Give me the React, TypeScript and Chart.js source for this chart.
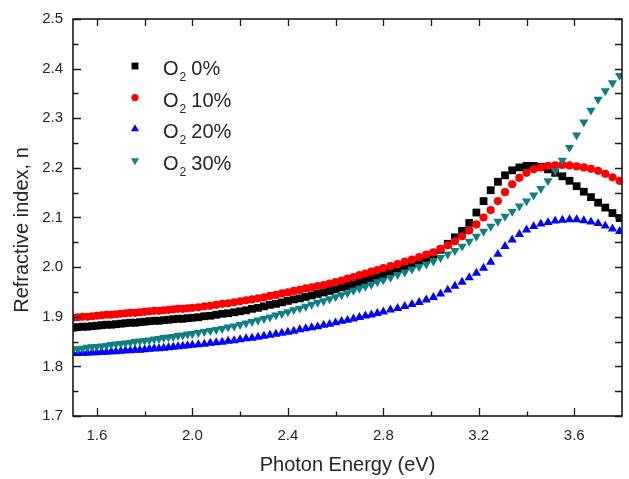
import { useEffect, useRef } from 'react';
import { Chart, registerables } from 'chart.js';

Chart.register(...registerables);

// Photon energy (eV)
const energy = [
  1.50, 1.52, 1.54, 1.56, 1.58, 1.60, 1.62, 1.64, 1.66, 1.68, 1.70, 1.72, 1.74, 1.76, 1.78, 1.80, 1.82, 1.84, 1.86, 1.88, 1.90, 1.92, 1.94, 1.96, 1.98, 2.00,
  2.025, 2.05, 2.075, 2.10, 2.125, 2.15, 2.175, 2.20, 2.225, 2.25, 2.275, 2.30, 2.325, 2.35, 2.375, 2.40, 2.425, 2.45, 2.475, 2.50, 2.525, 2.55, 2.575, 2.60, 2.625, 2.65, 2.675, 2.70, 2.725, 2.75, 2.775, 2.80,
  2.83, 2.86, 2.89, 2.92, 2.95, 2.98, 3.01, 3.04, 3.07, 3.10, 3.13, 3.16, 3.19, 3.22, 3.25, 3.28, 3.31, 3.34, 3.37, 3.40, 3.43, 3.46, 3.49, 3.52, 3.55, 3.58, 3.61, 3.64, 3.67, 3.70, 3.73, 3.76, 3.79,
];

// Refractive index, O2 0%
const nO2_0 = [
  1.878, 1.879, 1.880, 1.880, 1.881, 1.882, 1.883, 1.884, 1.884, 1.885, 1.886, 1.887, 1.888, 1.888, 1.889, 1.890, 1.891, 1.892, 1.892, 1.893, 1.894, 1.895, 1.896, 1.896, 1.897, 1.898,
  1.899, 1.901, 1.902, 1.904, 1.906, 1.907, 1.909, 1.911, 1.913, 1.916, 1.918, 1.921, 1.924, 1.926, 1.929, 1.932, 1.935, 1.937, 1.940, 1.943, 1.946, 1.949, 1.952, 1.955, 1.959, 1.962, 1.966, 1.970, 1.974, 1.978, 1.982, 1.986,
  1.991, 1.996, 2.001, 2.007, 2.012, 2.018, 2.025, 2.035, 2.047, 2.060, 2.073, 2.089, 2.110, 2.133, 2.155, 2.172, 2.185, 2.195, 2.201, 2.204, 2.204, 2.202, 2.197, 2.190, 2.183, 2.174, 2.163, 2.152, 2.141, 2.130, 2.120, 2.109, 2.099,
];

// Refractive index, O2 10%
const nO2_10 = [
  1.898, 1.899, 1.900, 1.900, 1.901, 1.902, 1.903, 1.904, 1.904, 1.905, 1.906, 1.907, 1.908, 1.908, 1.909, 1.910, 1.911, 1.912, 1.912, 1.913, 1.914, 1.915, 1.916, 1.916, 1.917, 1.918,
  1.919, 1.921, 1.922, 1.924, 1.926, 1.927, 1.929, 1.931, 1.933, 1.935, 1.937, 1.939, 1.942, 1.944, 1.947, 1.949, 1.952, 1.954, 1.957, 1.959, 1.962, 1.964, 1.967, 1.970, 1.973, 1.977, 1.980, 1.984, 1.987, 1.991, 1.994, 1.998,
  2.002, 2.006, 2.011, 2.015, 2.020, 2.025, 2.030, 2.037, 2.044, 2.052, 2.062, 2.074, 2.086, 2.100, 2.115, 2.133, 2.151, 2.167, 2.180, 2.190, 2.197, 2.201, 2.204, 2.205, 2.206, 2.205, 2.203, 2.201, 2.198, 2.194, 2.188, 2.181, 2.174,
];

// Refractive index, O2 20%
const nO2_20 = [
  1.826, 1.826, 1.827, 1.827, 1.828, 1.828, 1.829, 1.829, 1.830, 1.830, 1.831, 1.832, 1.832, 1.833, 1.833, 1.834, 1.835, 1.836, 1.836, 1.837, 1.838, 1.839, 1.840, 1.841, 1.842, 1.843,
  1.844, 1.845, 1.847, 1.848, 1.849, 1.851, 1.852, 1.854, 1.856, 1.857, 1.859, 1.861, 1.863, 1.865, 1.867, 1.869, 1.871, 1.874, 1.876, 1.878, 1.880, 1.883, 1.885, 1.888, 1.891, 1.893, 1.896, 1.899, 1.902, 1.904, 1.907, 1.910,
  1.914, 1.917, 1.921, 1.925, 1.929, 1.934, 1.939, 1.946, 1.954, 1.962, 1.970, 1.979, 1.988, 1.998, 2.010, 2.026, 2.042, 2.055, 2.066, 2.075, 2.082, 2.087, 2.090, 2.093, 2.095, 2.096, 2.096, 2.094, 2.091, 2.088, 2.083, 2.077, 2.072,
];

// Refractive index, O2 30%
const nO2_30 = [
  1.834, 1.835, 1.836, 1.838, 1.839, 1.840, 1.841, 1.842, 1.844, 1.845, 1.846, 1.847, 1.848, 1.850, 1.851, 1.852, 1.853, 1.855, 1.856, 1.858, 1.859, 1.860, 1.862, 1.863, 1.865, 1.866,
  1.868, 1.870, 1.872, 1.874, 1.876, 1.879, 1.881, 1.884, 1.887, 1.890, 1.893, 1.896, 1.899, 1.903, 1.906, 1.910, 1.914, 1.917, 1.921, 1.925, 1.929, 1.932, 1.936, 1.940, 1.944, 1.948, 1.953, 1.957, 1.961, 1.965, 1.970, 1.974,
  1.979, 1.985, 1.990, 1.996, 2.001, 2.006, 2.012, 2.019, 2.026, 2.033, 2.042, 2.052, 2.062, 2.072, 2.082, 2.092, 2.102, 2.112, 2.123, 2.133, 2.145, 2.158, 2.174, 2.194, 2.215, 2.241, 2.266, 2.292, 2.316, 2.338, 2.355, 2.371, 2.386,
];

const seriesPercent = ['0%', '10%', '20%', '30%'];
const seriesColors = ['#000000', '#ff0000', '#0000ff', '#0f8080'];

const xMajorTicks = [1.6, 2.0, 2.4, 2.8, 3.2, 3.6];
const xMinorTicks = [1.8, 2.2, 2.6, 3.0, 3.4];
const yMajorTicks = [1.7, 1.8, 1.9, 2.0, 2.1, 2.2, 2.3, 2.4, 2.5];
const yMinorTicks = [1.75, 1.85, 1.95, 2.05, 2.15, 2.25, 2.35, 2.45];

const xTitle = 'Photon Energy (eV)';
const yTitle = 'Refractive index, n';

const FONT = "'Liberation Sans', Arial, sans-serif";
const TEXT = '#262626';

const markerStyles = [
  { style: 'rect', radius: 5.5, rotation: 0 },
  { style: 'circle', radius: 4.1, rotation: 0 },
  { style: 'triangle', radius: 5.3, rotation: 0 },
  { style: 'triangle', radius: 5.3, rotation: 180 },
];

const legendMarkerScale = 0.88;

function drawMarker(ctx: CanvasRenderingContext2D, kind: number, x: number, y: number, color: string) {
  const m = markerStyles[kind];
  const r = m.radius * legendMarkerScale;
  ctx.save();
  ctx.fillStyle = color;
  ctx.beginPath();
  if (m.style === 'rect') {
    const s = Math.SQRT1_2 * r;
    ctx.rect(x - s, y - s, 2 * s, 2 * s);
  } else if (m.style === 'circle') {
    ctx.arc(x, y, r, 0, Math.PI * 2);
  } else {
    let rad = (m.rotation * Math.PI) / 180;
    ctx.moveTo(x + Math.sin(rad) * r, y - Math.cos(rad) * r);
    rad += (2 * Math.PI) / 3;
    ctx.lineTo(x + Math.sin(rad) * r, y - Math.cos(rad) * r);
    rad += (2 * Math.PI) / 3;
    ctx.lineTo(x + Math.sin(rad) * r, y - Math.cos(rad) * r);
    ctx.closePath();
  }
  ctx.fill();
  ctx.restore();
}

const decorPlugin = {
  id: 'decor',
  afterDatasetsDraw(chart: any) {
    const ctx: CanvasRenderingContext2D = chart.ctx;
    const { left, right, top, bottom } = chart.chartArea;
    const xs = chart.scales.x;
    const ys = chart.scales.y;
    ctx.save();
    ctx.strokeStyle = '#1a1a1a';
    ctx.lineWidth = 1.6;
    ctx.strokeRect(left, top, right - left, bottom - top);
    ctx.lineWidth = 1.3;
    ctx.beginPath();
    const majorLen = 8;
    const minorLen = 4.5;
    const mirrorLen = 7;
    xMajorTicks.forEach((v) => {
      const px = Math.round(xs.getPixelForValue(v)) + 0.5;
      ctx.moveTo(px, bottom);
      ctx.lineTo(px, bottom - majorLen);
      ctx.moveTo(px, top);
      ctx.lineTo(px, top + mirrorLen);
    });
    xMinorTicks.forEach((v) => {
      const px = Math.round(xs.getPixelForValue(v)) + 0.5;
      ctx.moveTo(px, bottom);
      ctx.lineTo(px, bottom - minorLen);
      ctx.moveTo(px, top);
      ctx.lineTo(px, top + mirrorLen);
    });
    yMajorTicks.forEach((v) => {
      const py = Math.round(ys.getPixelForValue(v)) + 0.5;
      ctx.moveTo(left, py);
      ctx.lineTo(left + majorLen, py);
      ctx.moveTo(right, py);
      ctx.lineTo(right - mirrorLen, py);
    });
    yMinorTicks.forEach((v) => {
      const py = Math.round(ys.getPixelForValue(v)) + 0.5;
      ctx.moveTo(left, py);
      ctx.lineTo(left + minorLen + 1, py);
      ctx.moveTo(right, py);
      ctx.lineTo(right - mirrorLen, py);
    });
    ctx.stroke();
    ctx.restore();
  },
  afterDraw(chart: any) {
    const ctx: CanvasRenderingContext2D = chart.ctx;
    const { left, right } = chart.chartArea;
    ctx.save();
    ctx.fillStyle = TEXT;
    // x title
    ctx.font = `20px ${FONT}`;
    ctx.textAlign = 'center';
    ctx.textBaseline = 'alphabetic';
    ctx.fillText(xTitle, (left + right) / 2, 471);
    // y title
    ctx.save();
    ctx.translate(28, 230);
    ctx.rotate(-Math.PI / 2);
    ctx.fillText(yTitle, 0, 0);
    ctx.restore();

    // legend
    const legendX = 135;
    const textX = 163;
    const rowY = [66, 97.5, 129, 160.5];
    chart.data.datasets.forEach((ds: any, i: number) => {
      const y = rowY[i];
      drawMarker(ctx, i, legendX, y, seriesColors[i]);
      ctx.fillStyle = TEXT;
      ctx.textAlign = 'left';
      ctx.textBaseline = 'alphabetic';
      ctx.font = `20px ${FONT}`;
      const base = y + 9;
      ctx.fillText('O', textX, base);
      const ow = ctx.measureText('O').width;
      ctx.font = `12px ${FONT}`;
      ctx.fillText('2', textX + ow + 1, base + 6);
      const sw = ctx.measureText('2').width;
      ctx.font = `20px ${FONT}`;
      ctx.fillText(' ' + seriesPercent[i], textX + ow + sw + 0.5, base);
    });
    ctx.restore();
  },
};

export default function App() {
  const canvasRef = useRef<HTMLCanvasElement | null>(null);

  useEffect(() => {
    if (!canvasRef.current) return;
    const seriesValues = [nO2_0, nO2_10, nO2_20, nO2_30];
    const datasets = seriesValues.map((vals, i) => ({
      label: 'O2 ' + seriesPercent[i],
      data: energy.map((e, j) => ({ x: e, y: vals[j] })),
      showLine: false,
      pointStyle: markerStyles[i].style,
      pointRadius: markerStyles[i].radius,
      pointRotation: markerStyles[i].rotation,
      pointBackgroundColor: seriesColors[i],
      pointBorderColor: seriesColors[i],
      pointBorderWidth: 0,
      pointHoverRadius: markerStyles[i].radius,
      order: 3 - i,
      clip: 0,
    }));

    const chart = new Chart(canvasRef.current, {
      type: 'scatter',
      data: { datasets },
      options: {
        animation: false,
        responsive: false,
        devicePixelRatio: 1,
        events: [],
        layout: { padding: { top: 15, right: 7, left: 0, bottom: 0 } },
        plugins: {
          legend: { display: false },
          tooltip: { enabled: false },
        },
        scales: {
          x: {
            type: 'linear',
            min: 1.5,
            max: 3.8,
            afterBuildTicks: (s: any) => {
              s.ticks = xMajorTicks.map((v) => ({ value: v }));
            },
            afterFit: (s: any) => {
              s.height = 63;
            },
            grid: { display: false, drawTicks: false },
            border: { display: false },
            ticks: {
              autoSkip: false,
              maxRotation: 0,
              padding: 11,
              color: TEXT,
              font: { family: FONT, size: 15 },
              callback: (v: any) => Number(v).toFixed(1),
            },
          },
          y: {
            type: 'linear',
            min: 1.7,
            max: 2.5,
            afterBuildTicks: (s: any) => {
              s.ticks = yMajorTicks.map((v) => ({ value: v }));
            },
            afterFit: (s: any) => {
              s.width = 73;
            },
            grid: { display: false, drawTicks: false },
            border: { display: false },
            ticks: {
              autoSkip: false,
              padding: 10,
              color: TEXT,
              font: { family: FONT, size: 15 },
              callback: (v: any) => Number(v).toFixed(1),
            },
          },
        },
      },
      plugins: [decorPlugin],
    });
    return () => chart.destroy();
  }, []);

  return (
    <div style={{ position: 'fixed', left: 0, top: 0, width: 629, height: 479, background: '#fff' }}>
      <canvas ref={canvasRef} width={629} height={479} style={{ display: 'block' }} />
    </div>
  );
}
